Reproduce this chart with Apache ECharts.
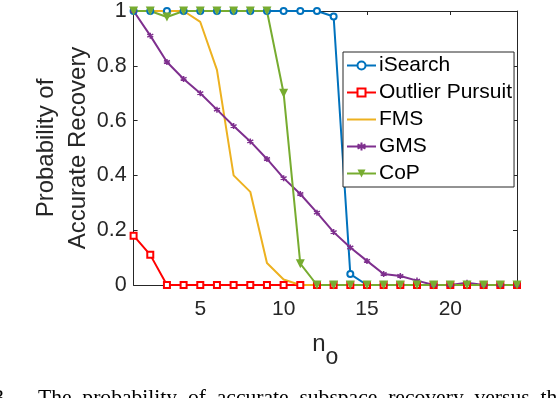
<!DOCTYPE html>
<html>
<head>
<meta charset="utf-8">
<script src="https://cdn.jsdelivr.net/npm/echarts@6/dist/echarts.min.js"></script>
<style>
  html, body { margin: 0; padding: 0; background: #fff; }
  #chart { width: 556px; height: 398px; }
</style>
</head>
<body>
<div id="chart"></div>
<script>
// outlier counts n_o
const nO = [1, 2, 3, 4, 5, 6, 7, 8, 9, 10, 11, 12, 13, 14, 15, 16, 17, 18, 19, 20, 21, 22, 23, 24]

const iSearch = [1, 1, 1, 1, 1, 1, 1, 1, 1, 1, 1, 1, 0.98, 0.04, 0, 0, 0, 0, 0, 0, 0, 0, 0, 0]
const outlierPursuit = [0.18, 0.11, 0, 0, 0, 0, 0, 0, 0, 0, 0, 0, 0, 0, 0, 0, 0, 0, 0, 0, 0, 0, 0, 0]
const fms = [1, 1, 1, 1, 0.96, 0.785, 0.40, 0.34, 0.08, 0.02, 0, 0, 0, 0, 0, 0, 0, 0, 0, 0, 0, 0, 0, 0]
const gms = [1, 0.91, 0.814, 0.752, 0.70, 0.64, 0.58, 0.524, 0.46, 0.39, 0.332, 0.264, 0.193, 0.137, 0.088, 0.04, 0.033, 0.016, 0, 0, 0.008, 0, 0, 0]
const cop = [1, 1, 0.978, 1, 1, 1, 1, 1, 1, 0.70, 0.078, 0, 0, 0, 0, 0, 0, 0, 0, 0, 0, 0, 0, 0]

const xTicks = [5, 10, 15, 20]

const colors = ['#0072BD', '#FF0000', '#EDB120', '#7E2F8E', '#77AC30']
const axisColor = '#262626'
const font = 'Liberation Sans, Arial, Helvetica, sans-serif'
const serif = 'Liberation Serif, Times New Roman, serif'

const chart = echarts.init(document.getElementById('chart'))

const pairs = arr => nO.map((x, i) => [x, arr[i]])

const baseLine = (name, data, color) => ({
  name,
  type: 'line',
  data: pairs(data),
  lineStyle: { color, width: 2 },
  itemStyle: { color },
  emphasis: { disabled: true }
})

const option = {
  animation: false,
  textStyle: { fontFamily: font },
  grid: { left: 133.6, right: 39, top: 9, bottom: 113 },
  legend: {
    orient: 'vertical',
    left: 343,
    top: 52,
    padding: [0, 2, 0, 3],
    itemGap: 0,
    itemWidth: 29,
    itemHeight: 10,
    backgroundColor: '#fff',
    borderColor: axisColor,
    borderWidth: 1,
    borderRadius: 0,
    textStyle: { fontSize: 21, lineHeight: 27, color: '#000', fontFamily: font, padding: [0, 0, 0, -2] },
    data: ['iSearch', 'Outlier Pursuit', { name: 'FMS', itemStyle: { opacity: 0 } }, 'GMS', 'CoP']
  },
  xAxis: [{
    type: 'value',
    min: 1,
    max: 24,
    name: '{n|n}{o|o}',
    nameLocation: 'middle',
    nameGap: 34,
    nameMoveOverlap: false,
    nameTextStyle: {
      rich: {
        n: { fontSize: 24, color: axisColor, fontFamily: font },
        o: { fontSize: 23, color: axisColor, fontFamily: font, padding: [27, 0, 0, 0] }
      }
    },
    axisLine: { lineStyle: { color: axisColor } },
    axisTick: { inside: true, length: 4, customValues: xTicks, lineStyle: { color: axisColor } },
    axisLabel: { fontSize: 21, color: axisColor, margin: 14, customValues: xTicks },
    splitLine: { show: false }
  }, {
    type: 'value',
    position: 'top',
    min: 1,
    max: 24,
    axisLine: { show: true, onZero: false, lineStyle: { color: axisColor } },
    axisTick: { inside: true, length: 4, customValues: xTicks, lineStyle: { color: axisColor } },
    axisLabel: { show: false },
    splitLine: { show: false }
  }],
  yAxis: [{
    type: 'value',
    min: 0,
    max: 1,
    interval: 0.2,
    name: 'Probability of\nAccurate Recovery',
    nameLocation: 'middle',
    nameGap: 39,
    nameMoveOverlap: false,
    nameTextStyle: { fontSize: 24, color: axisColor, lineHeight: 32, fontFamily: font },
    axisLine: { show: true, lineStyle: { color: axisColor } },
    axisTick: { show: true, inside: true, length: 4, lineStyle: { color: axisColor } },
    axisLabel: { fontSize: 21.5, color: axisColor, margin: 7 },
    splitLine: { show: false }
  }, {
    type: 'value',
    position: 'right',
    min: 0,
    max: 1,
    interval: 0.2,
    axisLine: { show: true, onZero: false, lineStyle: { color: axisColor } },
    axisTick: { show: true, inside: true, length: 4, lineStyle: { color: axisColor } },
    axisLabel: { show: false },
    splitLine: { show: false }
  }],
  graphic: [{
    type: 'text',
    left: -7,
    top: 387,
    style: { text: '3.', fontSize: 22, fontFamily: serif, fill: '#000' }
  }, {
    type: 'text',
    left: 38,
    top: 387,
    style: {
      text: 'The  probability  of  accurate  subspace  recovery  versus  the',
      fontSize: 21.6,
      fontFamily: serif,
      fill: '#000'
    }
  }],
  series: [
    Object.assign(baseLine('iSearch', iSearch, colors[0]), {
      symbol: 'emptyCircle', symbolSize: 6,
      itemStyle: { color: colors[0], borderWidth: 1.5 }
    }),
    Object.assign(baseLine('Outlier Pursuit', outlierPursuit, colors[1]), {
      symbol: 'emptyRect', symbolSize: 6,
      itemStyle: { color: colors[1], borderWidth: 1.5 }
    }),
    Object.assign(baseLine('FMS', fms, colors[2]), {
      symbol: 'none'
    }),
    Object.assign(baseLine('GMS', gms, colors[3]), {
      symbol: 'path://M0,-1L0,1M-0.87,-0.5L0.87,0.5M-0.87,0.5L0.87,-0.5',
      symbolSize: 6,
      itemStyle: { color: 'none', borderColor: colors[3], borderWidth: 1.5 }
    }),
    Object.assign(baseLine('CoP', cop, colors[4]), {
      symbol: 'triangle', symbolRotate: 180, symbolSize: 9,
      itemStyle: { color: colors[4] }
    })
  ]
}

chart.setOption(option)
</script>
</body>
</html>
